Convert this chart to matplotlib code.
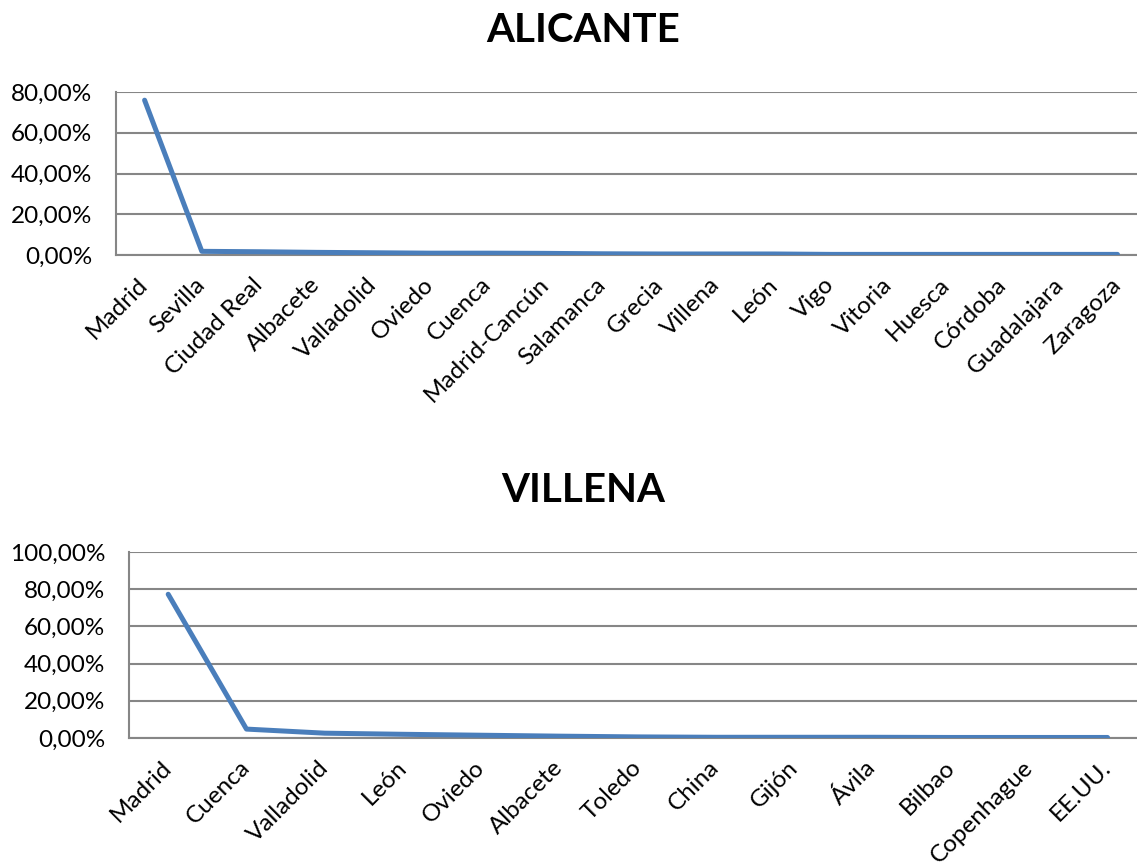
import matplotlib
matplotlib.use("Agg")
import matplotlib.pyplot as plt
import matplotlib.ticker as mticker

plt.rcParams['font.family'] = ['Lato', 'DejaVu Sans']

# ALICANTE
alicante_cities = ['Madrid', 'Sevilla', 'Ciudad Real', 'Albacete', 'Valladolid', 'Oviedo',
                   'Cuenca', 'Madrid-Cancún', 'Salamanca', 'Grecia', 'Villena', 'León',
                   'Vigo', 'Vitoria', 'Huesca', 'Córdoba', 'Guadalajara', 'Zaragoza']
alicante_pct = [76.0, 1.8, 1.6, 1.3, 1.1, 0.9, 0.9, 0.8, 0.6, 0.5, 0.5, 0.5,
                0.3, 0.3, 0.3, 0.3, 0.3, 0.3]

# VILLENA
villena_cities = ['Madrid', 'Cuenca', 'Valladolid', 'León', 'Oviedo', 'Albacete', 'Toledo',
                  'China', 'Gijón', 'Ávila', 'Bilbao', 'Copenhague', 'EE.UU.']
villena_pct = [77.3, 4.8, 2.6, 2.0, 1.5, 1.0, 0.6, 0.4, 0.4, 0.4, 0.3, 0.3, 0.3]

LINE = '#4A7EBB'
GRID = '#868686'

fig = plt.figure(figsize=(11.37, 8.65), dpi=100)


def draw(ax, cities, vals, ymax, title, title_y):
    x = range(len(cities))
    ax.plot(x, vals, color=LINE, lw=3.6, solid_capstyle='round', solid_joinstyle='round', zorder=3)
    ax.set_xlim(-0.5, len(cities) - 0.5)
    ax.set_ylim(0, ymax)
    ax.set_yticks(range(0, ymax + 1, 20))
    ax.yaxis.set_major_formatter(mticker.FuncFormatter(lambda v, p: f'{v:.2f}%'.replace('.', ',')))
    ax.grid(axis='y', color=GRID, lw=1.5)
    ax.set_axisbelow(True)
    for s in ['top', 'right']:
        ax.spines[s].set_visible(False)
    for s in ['left', 'bottom']:
        ax.spines[s].set_color(GRID)
        ax.spines[s].set_linewidth(1.5)
    ax.set_xticks(list(x))
    ax.set_xticklabels(cities, rotation=45, ha='right', va='center', rotation_mode='anchor')
    ax.tick_params(axis='both', length=0, labelsize=17.5, colors='black')
    ax.tick_params(axis='x', pad=19)
    ax.tick_params(axis='y', pad=17)
    fig.text(0.513, title_y, title, ha='center', va='center', fontsize=29, fontweight='bold')


ax1 = fig.add_axes([0.102, 0.7052, 0.906, 0.1884])
draw(ax1, alicante_cities, alicante_pct, 80, 'ALICANTE', 1 - 31 / 865)

ax2 = fig.add_axes([0.1135, 0.1468, 0.895, 0.215])
draw(ax2, villena_cities, villena_pct, 100, 'VILLENA', 1 - 491 / 865)

fig.savefig('out.png', dpi=100)
